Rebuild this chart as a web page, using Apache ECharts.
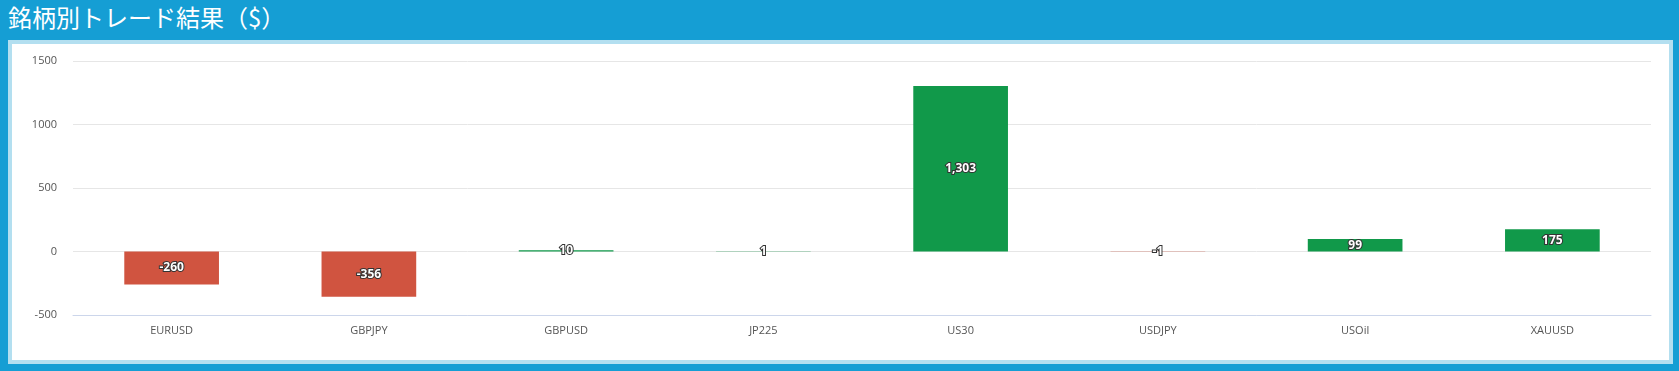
<!DOCTYPE html>
<html>
<head>
<meta charset="utf-8">
<script src="https://cdn.jsdelivr.net/npm/echarts@6/dist/echarts.min.js"></script>
<style>
  html, body { margin: 0; padding: 0; }
  body { width: 1679px; height: 371px; background: #159ed4; position: relative; overflow: hidden; }
  #title { position: absolute; left: 8px; top: 1px; color: #fff; font-family: "Noto Sans CJK JP", sans-serif; font-size: 24px; line-height: 32px; white-space: nowrap; }
  #panel { position: absolute; left: 8px; top: 40px; width: 1657px; height: 316px; border: 4px solid #b3dff0; background: #fff; }
  #chart { width: 1657px; height: 316px; }
</style>
</head>
<body>
<div id="title">銘柄別トレード結果（$）</div>
<div id="panel"><div id="chart"></div></div>
<script>
const categories = ["EURUSD", "GBPJPY", "GBPUSD", "JP225", "US30", "USDJPY", "USOil", "XAUUSD"];
const profits = [-260, -356, 10, 1, 1303, -1, 99, 175];
const yTicks = { min: -500, max: 1500, interval: 500 };
const colorUp = "#11994a";
const colorDown = "#d05440";

const chart = echarts.init(document.getElementById("chart"));
chart.setOption({
  animation: false,
  grid: { left: 61, right: 18, top: 17, bottom: 45 },
  xAxis: {
    type: "category",
    data: categories,
    position: "bottom",
    axisLine: { onZero: false, lineStyle: { color: "#ccd6eb" } },
    axisTick: { show: false },
    axisLabel: { color: "#555", fontSize: 11, fontFamily: "Open Sans", margin: 10 }
  },
  yAxis: {
    type: "value",
    min: yTicks.min, max: yTicks.max, interval: yTicks.interval,
    axisLine: { show: false },
    axisTick: { show: false },
    axisLabel: { color: "#555", fontSize: 11, fontFamily: "Open Sans", margin: 16, formatter: v => String(v) },
    splitLine: { lineStyle: { color: "#e6e6e6" } }
  },
  series: [{
    type: "bar",
    barWidth: "48%",
    data: profits.map(v => ({ value: v, itemStyle: { color: v >= 0 ? colorUp : colorDown } })),
    label: {
      show: true,
      position: "inside",
      color: "#fff",
      fontSize: 12,
      fontWeight: "bold",
      fontFamily: "Open Sans",
      textBorderColor: "#333",
      textBorderWidth: 2,
      formatter: p => p.value.toLocaleString("en-US")
    }
  }]
});
</script>
</body>
</html>
